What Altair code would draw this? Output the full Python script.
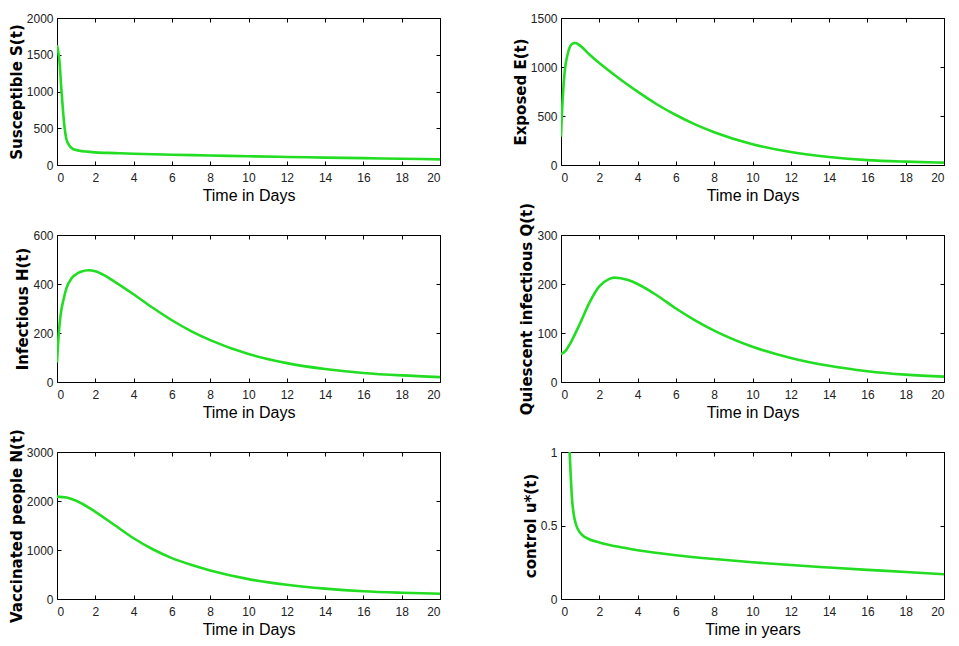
import altair as alt
import pandas as pd

# ---------------- data ----------------
t_S = [0, 0.14, 0.22, 0.31, 0.40, 0.48, 0.62, 0.83, 1.17, 1.5, 2, 3, 4, 6, 8, 10, 12, 14, 16, 18, 20]
v_S = [1630, 1380, 1060, 750, 500, 365, 275, 218, 195, 183, 172, 162, 153, 140, 130, 119, 109, 101, 93, 85, 77]

t_E = [0, 0.05, 0.14, 0.22, 0.31, 0.45, 0.6, 0.74, 0.9, 1.0, 1.5, 2, 3, 4, 5, 6, 7, 8, 10, 12, 14, 16, 18, 20]
v_E = [290, 530, 830, 1000, 1100, 1200, 1238, 1245, 1232, 1218, 1125, 1040, 888, 748, 620, 510, 415, 335, 212, 132, 82, 50, 34, 24]

t_H = [0, 0.1, 0.2, 0.35, 0.5, 0.75, 1.0, 1.25, 1.65, 2.0, 2.5, 3, 4, 5, 6, 7, 8, 10, 12, 14, 16, 18, 20]
v_H = [80, 205, 280, 340, 384, 422, 440, 450, 456, 452, 434, 410, 358, 303, 252, 208, 171, 114, 77, 53, 37, 27, 20]

t_Q = [0, 0.25, 0.5, 1, 1.5, 2, 2.5, 2.8, 3.5, 4, 5, 6, 7, 8, 10, 12, 14, 16, 18, 20]
v_Q = [57, 64, 80, 120, 163, 195, 210, 213, 208, 200, 177, 150, 126, 105, 72, 49, 33, 22, 15, 11]

t_N = [0, 0.5, 1, 2, 3, 4, 5, 6, 7, 8, 10, 12, 14, 16, 18, 20]
v_N = [2090, 2070, 2005, 1780, 1510, 1240, 1015, 835, 697, 582, 406, 291, 212, 158, 128, 108]

t_u = [0.45, 0.5, 0.57, 0.66, 0.8, 1.0, 1.2, 1.5, 2, 3, 4, 6, 8, 10, 12, 14, 16, 18, 20]
v_u = [1.0, 0.86, 0.69, 0.58, 0.5, 0.45, 0.425, 0.405, 0.385, 0.355, 0.332, 0.298, 0.272, 0.25, 0.231, 0.214, 0.198, 0.184, 0.168]

x_ticks = [0, 2, 4, 6, 8, 10, 12, 14, 16, 18, 20]
yt_S = [0, 500, 1000, 1500, 2000]
yt_E = [0, 500, 1000, 1500]
yt_H = [0, 200, 400, 600]
yt_Q = [0, 100, 200, 300]
yt_N = [0, 1000, 2000, 3000]
yt_u = [0, 0.5, 1]

# ---------------- styling ----------------
W, H = 383, 147
GREEN = "#22dd22"
SANS = "'Liberation Sans', Arial, sans-serif"
BOLD = "'DejaVu Sans', sans-serif"


def panel(ts, vs, yticks, ytitle, xtitle, yfmt="d"):
    df = pd.DataFrame({"t": ts, "v": vs})
    ymax = yticks[-1]
    return (
        alt.Chart(df)
        .mark_line(color=GREEN, strokeWidth=2.6, interpolate="monotone", clip=True)
        .encode(
            x=alt.X(
                "t:Q",
                scale=alt.Scale(domain=[0, 20], nice=False, zero=False),
                axis=alt.Axis(
                    values=x_ticks, format="d", title=xtitle,
                    ticks=False, domain=False,
                    grid=True, gridColor="black", gridOpacity=1, gridWidth=1,
                    gridDash=[4, H - 8],
                    labelFont=SANS, labelFontSize=12, labelColor="#222",
                    labelPadding=7,
                    titleFont=SANS, titleFontSize=16, titleFontWeight="normal",
                    titleColor="black", titlePadding=4,
                ),
            ),
            y=alt.Y(
                "v:Q",
                scale=alt.Scale(domain=[0, ymax], nice=False),
                axis=alt.Axis(
                    values=yticks, format=yfmt, title=ytitle,
                    ticks=False, domain=False,
                    grid=True, gridColor="black", gridOpacity=1, gridWidth=1,
                    gridDash=[4, W - 8],
                    labelFont=SANS, labelFontSize=12, labelColor="#222",
                    labelPadding=4,
                    titleFont=BOLD, titleFontSize=15, titleFontWeight="bold",
                    titleColor="black", titlePadding=2,
                ),
            ),
        )
        .properties(width=W, height=H)
    )


charts = [
    panel(t_S, v_S, yt_S, "Susceptible S(t)", "Time in Days"),
    panel(t_E, v_E, yt_E, "Exposed E(t)", "Time in Days"),
    panel(t_H, v_H, yt_H, "Infectious H(t)", "Time in Days"),
    panel(t_Q, v_Q, yt_Q, "Quiescent infectious Q(t)", "Time in Days"),
    panel(t_N, v_N, yt_N, "Vaccinated people N(t)", "Time in Days"),
    panel(t_u, v_u, yt_u, "control u*(t)", "Time in years", yfmt="~g"),
]

chart = (
    alt.concat(
        *charts,
        columns=2,
        spacing={"row": 70, "column": 121},
        bounds="flush",
        padding={"left": 0, "top": 3, "right": 0, "bottom": 0},
        background="white",
    )
    .configure_view(stroke="black", strokeWidth=1)
)

chart.save("out.html", embed_options={"renderer": "svg", "actions": False})
